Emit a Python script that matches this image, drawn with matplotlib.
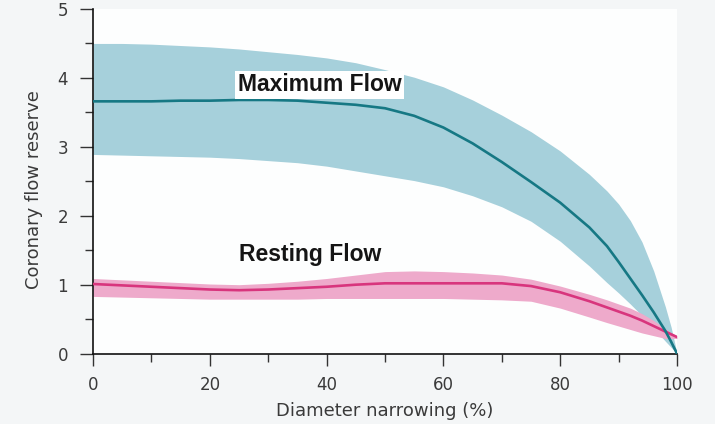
import numpy as np
import matplotlib
matplotlib.use("Agg")
import matplotlib.pyplot as plt
from matplotlib.ticker import MultipleLocator

plt.rcParams['font.family'] = ['DejaVu Sans']

# diameter narrowing (%) sample positions
narrowing = [0, 5, 10, 15, 20, 25, 30, 35, 40, 45, 50, 55, 60, 65, 70, 75,
             80, 85, 88, 90, 92, 94, 96, 98, 99, 100]

# maximum (hyperaemic) flow: mean curve and band
max_mean = [3.66, 3.66, 3.66, 3.67, 3.67, 3.68, 3.68, 3.67, 3.64, 3.61, 3.56,
            3.45, 3.28, 3.05, 2.78, 2.49, 2.19, 1.83, 1.56, 1.33, 1.09, 0.85,
            0.60, 0.33, 0.17, 0.00]
max_upper = [4.50, 4.50, 4.49, 4.47, 4.45, 4.42, 4.38, 4.34, 4.29, 4.22, 4.12,
             4.01, 3.87, 3.68, 3.46, 3.22, 2.94, 2.60, 2.36, 2.17, 1.93, 1.62,
             1.20, 0.68, 0.38, 0.00]
max_lower = [2.89, 2.88, 2.87, 2.86, 2.85, 2.83, 2.80, 2.77, 2.72, 2.65, 2.58,
             2.51, 2.42, 2.29, 2.13, 1.92, 1.63, 1.27, 1.03, 0.88, 0.72, 0.55,
             0.37, 0.18, 0.09, 0.00]

# resting flow: mean curve and band
rest_mean = [1.01, 0.99, 0.97, 0.95, 0.93, 0.92, 0.93, 0.95, 0.97, 1.00, 1.02,
             1.02, 1.02, 1.02, 1.02, 0.98, 0.89, 0.76, 0.67, 0.61, 0.55, 0.48,
             0.40, 0.32, 0.28, 0.24]
rest_upper = [1.09, 1.07, 1.05, 1.03, 1.01, 1.00, 1.02, 1.05, 1.09, 1.14, 1.19,
              1.20, 1.19, 1.17, 1.14, 1.08, 0.98, 0.86, 0.78, 0.72, 0.66, 0.58,
              0.48, 0.36, 0.30, 0.26]
rest_lower = [0.83, 0.82, 0.81, 0.80, 0.79, 0.79, 0.79, 0.79, 0.80, 0.80, 0.80,
              0.80, 0.80, 0.79, 0.78, 0.76, 0.66, 0.53, 0.45, 0.40, 0.35, 0.30,
              0.26, 0.22, 0.22, 0.22]

TEAL_FILL = '#a6d0db'
TEAL_LINE = '#167884'
PINK_FILL = '#eeaacb'
PINK_LINE = '#d8357d'

fig = plt.figure(figsize=(7.15, 4.24), dpi=100, facecolor='#f4f6f7')
ax = fig.add_axes([0.1301, 0.1660, 0.8168, 0.8128])
ax.set_facecolor('#fdfefe')

ax.fill_between(narrowing, max_lower, max_upper, color=TEAL_FILL, lw=0, zorder=1)
ax.fill_between(narrowing, rest_lower, rest_upper, color=PINK_FILL, lw=0, zorder=2)
ax.plot(narrowing, rest_mean, color=PINK_LINE, lw=1.9, zorder=3,
        solid_capstyle='round', solid_joinstyle='round')
ax.plot(narrowing, max_mean, color=TEAL_LINE, lw=1.9, zorder=4,
        solid_capstyle='round', solid_joinstyle='round')

ax.text(38.8, 3.9, 'Maximum Flow', fontsize=16.5, fontweight='bold',
        family='Liberation Sans', color='#151515', ha='center', va='center',
        zorder=5, bbox=dict(facecolor='white', edgecolor='none', pad=2.0))
ax.text(37.2, 1.44, 'Resting Flow', fontsize=16.5, fontweight='bold',
        family='Liberation Sans', color='#151515', ha='center', va='center',
        zorder=5)

ax.set_xlim(0, 100)
ax.set_ylim(0, 5)
ax.xaxis.set_major_locator(MultipleLocator(20))
ax.xaxis.set_minor_locator(MultipleLocator(10))
ax.yaxis.set_major_locator(MultipleLocator(1))
ax.yaxis.set_minor_locator(MultipleLocator(0.5))

for side in ('top', 'right'):
    ax.spines[side].set_visible(False)
for side in ('left', 'bottom'):
    ax.spines[side].set_linewidth(1.2)
    ax.spines[side].set_color('#111111')

ax.tick_params(which='major', width=1.0, color='#333333',
               labelsize=12, labelcolor='#3a3a3a')
ax.tick_params(which='minor', width=1.0, color='#333333')
ax.tick_params(axis='y', which='major', length=9.4, pad=8.5)
ax.tick_params(axis='y', which='minor', length=6)
ax.tick_params(axis='x', which='major', length=8.6, pad=7.5)
ax.tick_params(axis='x', which='minor', length=6)

ax.set_xlabel('Diameter narrowing (%)', fontsize=13, color='#3a3a3a',
              labelpad=6)
ax.set_ylabel('Coronary flow reserve', fontsize=13, color='#3a3a3a')
ax.yaxis.set_label_coords(-0.085, 0.475)

fig.savefig('out.png', dpi=100, facecolor=fig.get_facecolor())
